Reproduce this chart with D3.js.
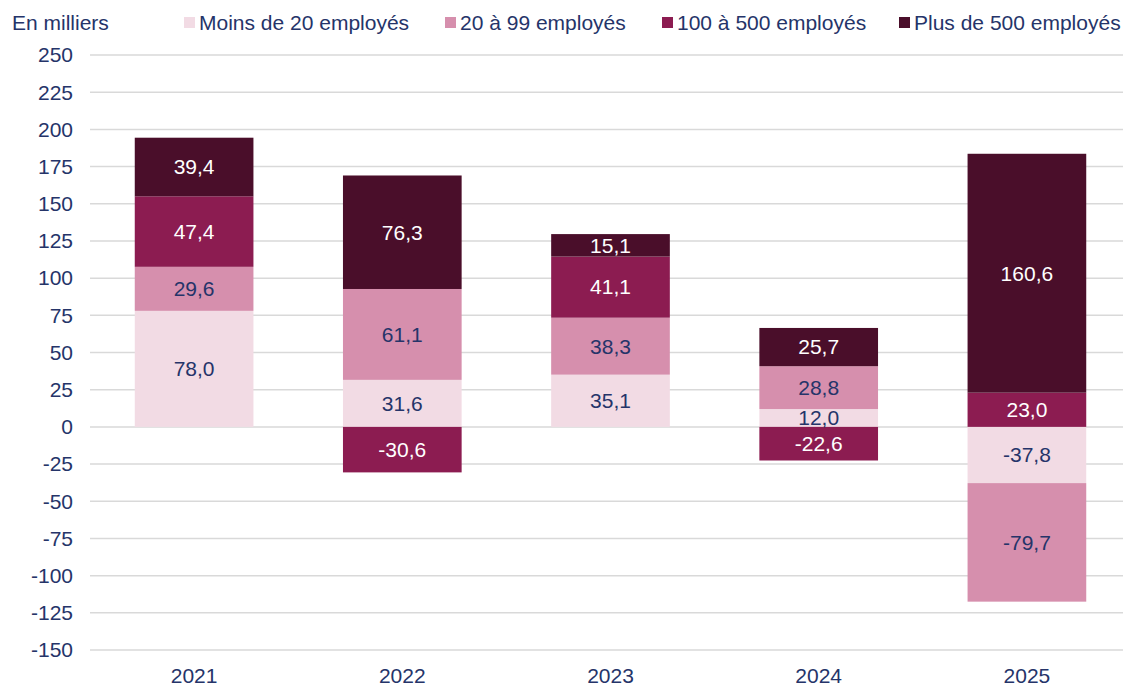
<!DOCTYPE html>
<html>
<head>
<meta charset="utf-8">
<script src="https://cdn.jsdelivr.net/npm/d3@7"></script>
<style>
  body { margin: 0; background: #fff; }
  text { font-family: "Liberation Sans", Arial, sans-serif; }
</style>
</head>
<body>
<div class="chart"></div>
<script>
const years = ["2021", "2022", "2023", "2024", "2025"];
const seriesNames = ["Moins de 20 employés", "20 à 99 employés", "100 à 500 employés", "Plus de 500 employés"];
const moins20 = [78.0, 31.6, 35.1, 12.0, -37.8];
const de20a99 = [29.6, 61.1, 38.3, 28.8, -79.7];
const de100a500 = [47.4, -30.6, 41.1, -22.6, 23.0];
const plus500 = [39.4, 76.3, 15.1, 25.7, 160.6];
const yTicks = [250, 225, 200, 175, 150, 125, 100, 75, 50, 25, 0, -25, -50, -75, -100, -125, -150];

const colors = ["#f2dbe4", "#d68fad", "#8c1c51", "#4a0e2a"];
const labelColors = ["#253469", "#253469", "#ffffff", "#ffffff"];
const navy = "#253469";
const fontSize = "21px";

const width = 1123, height = 686;

const rows = years.map((y, i) => ({
  year: y,
  s0: moins20[i], s1: de20a99[i], s2: de100a500[i], s3: plus500[i]
}));

const keys = ["s0", "s1", "s2", "s3"];
const stack = d3.stack().keys(keys).offset(d3.stackOffsetDiverging);
const stacked = stack(rows);

const svg = d3.select(".chart").append("svg")
  .attr("width", width)
  .attr("height", height);

const x = d3.scaleBand()
  .domain(years)
  .range([90, 1131])
  .paddingInner(0.43)
  .paddingOuter(0.215);

const y = d3.scaleLinear()
  .domain([-150, 250])
  .range([650, 55]);

// gridlines
svg.append("g")
  .selectAll("line")
  .data(yTicks)
  .enter()
  .append("line")
  .attr("x1", 90)
  .attr("x2", 1123)
  .attr("y1", d => y(d))
  .attr("y2", d => y(d))
  .attr("stroke", "#d9d9d9")
  .attr("stroke-width", 1.5);

// y axis labels
svg.append("g")
  .selectAll("text")
  .data(yTicks)
  .enter()
  .append("text")
  .attr("x", 73)
  .attr("y", d => y(d))
  .attr("dy", "0.35em")
  .attr("text-anchor", "end")
  .attr("fill", navy)
  .style("font-size", fontSize)
  .text(d => d);

// x axis labels
svg.append("g")
  .selectAll("text")
  .data(years)
  .enter()
  .append("text")
  .attr("x", d => x(d) + x.bandwidth() / 2)
  .attr("y", 676)
  .attr("dy", "0.35em")
  .attr("text-anchor", "middle")
  .attr("fill", navy)
  .style("font-size", fontSize)
  .text(d => d);

// bars
const layers = svg.append("g")
  .selectAll("g")
  .data(stacked)
  .enter()
  .append("g")
  .attr("fill", (d, i) => colors[i]);

layers.selectAll("rect")
  .data(d => d)
  .enter()
  .append("rect")
  .attr("x", d => x(d.data.year))
  .attr("width", x.bandwidth())
  .attr("y", d => y(Math.max(d[0], d[1])))
  .attr("height", d => Math.abs(y(d[0]) - y(d[1])));

// value labels
const fmt = v => v.toFixed(1).replace(".", ",");
stacked.forEach((layer, li) => {
  svg.append("g")
    .selectAll("text")
    .data(layer)
    .enter()
    .append("text")
    .attr("x", d => x(d.data.year) + x.bandwidth() / 2)
    .attr("y", d => y((d[0] + d[1]) / 2))
    .attr("dy", "0.35em")
    .attr("text-anchor", "middle")
    .attr("fill", labelColors[li])
    .style("font-size", fontSize)
    .text(d => fmt(d.data[layer.key]));
});

// unit label
svg.append("text")
  .attr("x", 12)
  .attr("y", 23)
  .attr("dy", "0.35em")
  .attr("fill", navy)
  .style("font-size", fontSize)
  .text("En milliers");

// legend
const legendX = [184, 445, 662, 899];
const legend = svg.append("g")
  .selectAll("g")
  .data(seriesNames)
  .enter()
  .append("g")
  .attr("transform", (d, i) => "translate(" + legendX[i] + ",22)");

legend.append("rect")
  .attr("x", 0)
  .attr("y", -5)
  .attr("width", 11)
  .attr("height", 11)
  .attr("fill", (d, i) => colors[i]);

legend.append("text")
  .attr("x", 15)
  .attr("y", 1)
  .attr("dy", "0.35em")
  .attr("fill", navy)
  .style("font-size", fontSize)
  .text(d => d);
</script>
</body>
</html>
